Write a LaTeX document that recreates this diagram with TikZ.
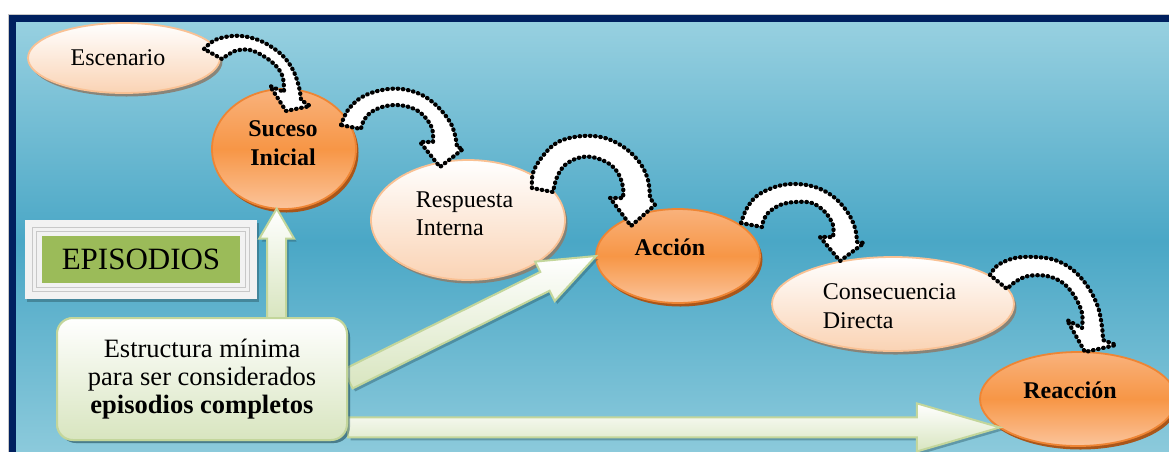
\documentclass[tikz,border=0pt]{standalone}
\usepackage{fontspec}
\setmainfont{Liberation Serif}
\newfontfamily\tnr{Liberation Serif}
\usetikzlibrary{calc,shapes.geometric,shadows}

\definecolor{navy}{HTML}{00205F}
\definecolor{bgtop}{HTML}{97D0E0}
\definecolor{bgmid}{HTML}{4AA7C6}
\definecolor{bgbot}{HTML}{8ECBDC}
\definecolor{peachbot}{HTML}{FAD3B4}
\definecolor{peachline}{HTML}{F9C194}
\definecolor{peachshadow}{HTML}{8A7F70}
\definecolor{orgtop}{HTML}{F9B27C}
\definecolor{orgmid}{HTML}{F79646}
\definecolor{orgbot}{HTML}{FBC49B}
\definecolor{orgline}{HTML}{EE8534}
\definecolor{orgshadow}{HTML}{A9561A}
\definecolor{greenfill}{HTML}{9BBB59}
\definecolor{greenline}{HTML}{C3D69B}
\definecolor{greenbot}{HTML}{D8E5BF}
\definecolor{boxgray}{HTML}{F2F2F2}
\definecolor{boxline}{HTML}{C8C8C8}
\definecolor{tealshadow}{HTML}{2F5E6C}

\newcommand\blockarrow[5]{%
  \path (#1) coordinate (ba-s) (#2) coordinate (ba-t);
  \path ($(ba-t)!#5!(ba-s)$) coordinate (ba-b);
  \draw[greenarrow] ($(ba-s)!#3!90:(ba-t)$) -- ($(ba-b)!#3!90:(ba-t)$)
    -- ($(ba-b)!#4!90:(ba-t)$) -- (ba-t) -- ($(ba-b)!#4!-90:(ba-t)$)
    -- ($(ba-b)!#3!-90:(ba-t)$) -- ($(ba-s)!#3!-90:(ba-t)$) -- cycle;
}

\begin{document}
\begin{tikzpicture}[x=1pt,y=-1pt,
  lightell/.style={ellipse, draw=peachline, line width=1.8pt, top color=white,
    bottom color=peachbot, inner sep=0pt, outer sep=0pt,
    drop shadow={shadow xshift=2.5pt, shadow yshift=-3.5pt, fill=peachshadow, opacity=0.9}},
  orangeell/.style={ellipse, draw=orgline, line width=1.8pt, top color=orgtop,
    bottom color=orgbot, middle color=orgmid, inner sep=0pt, outer sep=0pt,
    drop shadow={shadow xshift=2.5pt, shadow yshift=-3.5pt, fill=orgshadow, opacity=1}},
  txt/.style={inner sep=0pt, outer sep=0pt, text=black, font=\tnr\fontsize{24}{28.5}\selectfont},
  btxt/.style={txt, font=\tnr\fontsize{24}{28.5}\selectfont\bfseries},
  greenarrow/.style={draw=greenline, line width=2pt, line join=miter, top color=white,
    bottom color=greenbot,
    drop shadow={shadow xshift=2.5pt, shadow yshift=-3pt, fill=tealshadow, opacity=0.45}},
  curvarrow/.style={fill=white, draw=black, line width=4.2pt, line cap=round,
    line join=round, dash pattern=on 0.6pt off 4.6pt},
  gbox/.style={rectangle, rounded corners=16pt, draw=greenline, line width=2pt,
    top color=white, bottom color=greenbot, minimum width=290pt, minimum height=122pt,
    align=center, inner sep=0pt, text=black, font=\tnr\fontsize{26.5}{28}\selectfont,
    drop shadow={shadow xshift=3pt, shadow yshift=-3pt, fill=tealshadow, opacity=0.45}}
]
\useasboundingbox (0,0) rectangle (1169,451);
\fill[white] (0,0) rectangle (1169,451);
\fill[navy] (8,14.5) rectangle (1180,460);
\draw[boxline, line width=0.8pt] (8,460) -- (8,14.5) -- (1180,14.5);
\shade[top color=bgtop, bottom color=bgbot, middle color=bgmid] (16,22.5) rectangle (1180,460);

% ellipses
\node[lightell, minimum width=192pt, minimum height=70pt] (escenario) at (124,58) {};
\node[orangeell, minimum width=144pt, minimum height=120pt] (suceso) at (284,149) {};
\node[lightell, minimum width=194pt, minimum height=120pt] (respuesta) at (468,220) {};
\node[orangeell, minimum width=164pt, minimum height=94pt] (accion) at (678,256) {};
\node[lightell, minimum width=242pt, minimum height=94pt] (consecuencia) at (893,304) {};
\node[orangeell, minimum width=196pt, minimum height=94pt] (reaccion) at (1078,399) {};

% ellipse texts
\node[txt, anchor=base] (t-esc) at (118,65) {Escenario};
\node[btxt, align=center] (t-suc) at (283,143) {Suceso\\Inicial};
\node[txt, align=left] (t-res) at (464.5,214) {Respuesta\\Interna};
\node[btxt, anchor=base] (t-acc) at (670,255) {Acción};
\node[txt, align=left] (t-con) at (889.5,306) {Consecuencia\\Directa};
\node[btxt, anchor=base] (t-rea) at (1070,398) {Reacción};

% curved dotted arrows
\draw[curvarrow] plot[smooth, tension=0.6] coordinates {(204,49) (215,40) (232,36) (248,37) (265,43) (282,55) (293,70) (299,87) (301,100)}
  -- (310,106) -- (286,111) -- (270,86)
  -- plot[smooth, tension=0.6] coordinates {(284,92) (283,78) (277,67) (265,57) (250,50) (235,51) (222,59)} -- cycle;
\draw[curvarrow] plot[smooth, tension=0.6] coordinates {(341,125) (348,110) (362,97) (382,90) (402,89) (422,95) (438,107) (450,122) (455,135) (457,147)}
  -- (463,149) -- (440,167) -- (420,142)
  -- plot[smooth, tension=0.6] coordinates {(433,142) (432,128) (423,115) (412,108) (397,105) (382,107) (370,113) (363,122) (361,129)} -- cycle;
\draw[curvarrow] plot[smooth, tension=0.6] coordinates {(532,188) (533,173) (542,157) (558,142) (582,136) (605,138) (625,148) (640,163) (648,180) (650,198)}
  -- (655,205) -- (631,226) -- (610,198)
  -- plot[smooth, tension=0.6] coordinates {(623,198) (623,187) (618,173) (608,163) (592,157) (578,158) (565,165) (557,177) (553,192)} -- cycle;
\draw[curvarrow] plot[smooth, tension=0.6] coordinates {(741,223) (747,208) (758,195) (778,186) (798,184) (818,188) (835,198) (848,213) (855,228) (857,242)}
  -- (864,243) -- (840,261) -- (820,237)
  -- plot[smooth, tension=0.6] coordinates {(833,237) (833,225) (825,212) (812,203) (795,202) (780,205) (768,213) (763,222) (762,227)} -- cycle;
\draw[curvarrow] plot[smooth, tension=0.6] coordinates {(990,275) (998,265) (1015,258) (1035,257) (1055,260) (1073,270) (1088,287) (1098,307) (1102,327) (1103,340)}
  -- (1116,345) -- (1085,352) -- (1067,320)
  -- plot[smooth, tension=0.6] coordinates {(1082,328) (1082,313) (1075,297) (1063,283) (1047,276) (1028,276) (1015,282) (1007,289)} -- cycle;

% EPISODIOS label
\node[fill=boxgray, minimum width=232pt, minimum height=79pt, inner sep=0pt,
  drop shadow={shadow xshift=2pt, shadow yshift=-3pt, fill=tealshadow, opacity=0.5}] (epiframe) at (141,259.5) {};
\draw[boxline, line width=0.8pt] ($(epiframe.north west)+(8,7.5)$) rectangle ($(epiframe.south east)+(-8,-7.5)$);
\draw[boxline, line width=0.8pt] ($(epiframe.north west)+(12,12)$) rectangle ($(epiframe.south east)+(-12,-12)$);
\node[fill=greenfill, minimum width=198pt, minimum height=47pt, inner sep=0pt, text=black,
  font=\tnr\fontsize{31}{34}\selectfont] (episodios) at (141,259.5) {\raisebox{-2pt}{EPISODIOS}};

% green block arrows
\blockarrow{suceso.-97 |- 0,318}{suceso.-97}{9.5pt}{17.5pt}{30pt}
\node[gbox] (estructura) at (202,379) {};
\blockarrow{estructura.east}{accion.west}{10.5pt}{22pt}{57pt}
\blockarrow{estructura.east |- reaccion.200}{reaccion.200}{10pt}{24pt}{83pt}
\node[gbox] (estructura-top) at (estructura) {Estructura mínima\\para ser considerados\\\textbf{episodios completos}};
\end{tikzpicture}
\end{document}
